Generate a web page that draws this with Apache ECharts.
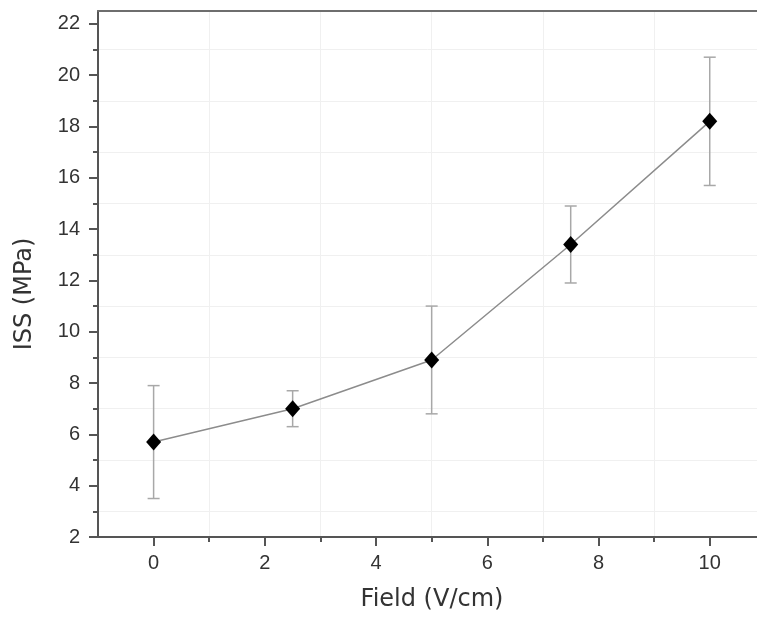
<!DOCTYPE html>
<html>
<head>
<meta charset="utf-8">
<script src="https://cdn.jsdelivr.net/npm/echarts@6/dist/echarts.min.js"></script>
<style>
  html, body { margin: 0; padding: 0; background: #ffffff; }
  #chart { width: 757px; height: 621px; }
</style>
</head>
<body>
<div id="chart"></div>
<script>
var fieldValues = [0, 2.5, 5, 7.5, 10];
var issMean = [5.7, 7.0, 8.9, 13.4, 18.2];
var issHigh = [7.9, 7.7, 11.0, 14.9, 20.7];
var issLow = [3.5, 6.3, 6.8, 11.9, 15.7];
var xMajorTicks = [0, 2, 4, 6, 8, 10];
var xMinorTicks = [1, 3, 5, 7, 9];
var yMajorTicks = [2, 4, 6, 8, 10, 12, 14, 16, 18, 20, 22];
var yMinorTicks = [3, 5, 7, 9, 11, 13, 15, 17, 19, 21];
var xAxisTitle = 'Field (V/cm)';
var yAxisTitle = 'ISS (MPa)';

var FONT = '"Liberation Sans", Arial, sans-serif';
var TITLE_FONT = '"DejaVu Sans", "Liberation Sans", sans-serif';
var chart = echarts.init(document.getElementById('chart'), null, { renderer: 'canvas' });

var lineData = fieldValues.map(function (x, i) { return [x, issMean[i]]; });
var errData = fieldValues.map(function (x, i) { return [x, issLow[i], issHigh[i]]; });

var axisLineStyle = { color: '#555555', width: 2 };
var labelStyle = { color: '#333333', fontSize: 20, fontFamily: FONT };
var X_MIN = -1, X_MAX = 10.85, Y_MIN = 2, Y_MAX = 22.5;

var option = {
  backgroundColor: '#ffffff',
  animation: false,
  grid: { left: 98, top: 11, right: 0, bottom: 84 },
  xAxis: [
    {
      type: 'value', position: 'bottom', min: X_MIN, max: X_MAX,
      axisLine: { show: true, onZero: false, lineStyle: axisLineStyle },
      axisTick: { show: true, customValues: xMajorTicks, length: 9, lineStyle: axisLineStyle },
      axisLabel: Object.assign({ customValues: xMajorTicks, margin: 16 }, labelStyle),
      splitLine: { show: false }
    },
    {
      type: 'value', position: 'bottom', min: X_MIN, max: X_MAX,
      axisLine: { show: false, onZero: false },
      axisTick: { show: true, customValues: xMinorTicks, length: 5, lineStyle: axisLineStyle },
      axisLabel: { show: false },
      splitLine: { show: true, lineStyle: { color: '#f0f0f0', width: 1 } }
    },
    {
      type: 'value', position: 'top', min: X_MIN, max: X_MAX,
      axisLine: { show: true, onZero: false, lineStyle: { color: '#6e6e6e', width: 2 } },
      axisTick: { show: false },
      axisLabel: { show: false },
      splitLine: { show: false }
    }
  ],
  yAxis: [
    {
      type: 'value', position: 'left', min: Y_MIN, max: Y_MAX,
      axisLine: { show: true, onZero: false, lineStyle: axisLineStyle },
      axisTick: { show: true, customValues: yMajorTicks, length: 9, lineStyle: axisLineStyle },
      axisLabel: Object.assign({ customValues: yMajorTicks, margin: 18 }, labelStyle),
      splitLine: { show: false }
    },
    {
      type: 'value', position: 'left', min: Y_MIN, max: Y_MAX,
      axisLine: { show: false, onZero: false },
      axisTick: { show: true, customValues: yMinorTicks, length: 5, lineStyle: axisLineStyle },
      axisLabel: { show: false },
      splitLine: { show: true, lineStyle: { color: '#f0f0f0', width: 1 } }
    }
  ],
  graphic: [
    {
      type: 'text', x: 432, y: 600,
      style: { text: xAxisTitle, font: '24px ' + TITLE_FONT, fill: '#333333', textAlign: 'center', textVerticalAlign: 'middle' }
    },
    {
      type: 'text', x: 25, y: 294, rotation: Math.PI / 2,
      style: { text: yAxisTitle, font: '24px ' + TITLE_FONT, fill: '#333333', textAlign: 'center', textVerticalAlign: 'middle' }
    }
  ],
  series: [
    {
      type: 'custom', xAxisIndex: 0, yAxisIndex: 0, z: 2,
      data: errData,
      renderItem: function (params, api) {
        var x = api.value(0);
        var lo = api.coord([x, api.value(1)]);
        var hi = api.coord([x, api.value(2)]);
        var w = 6;
        var st = { stroke: '#a8a8a8', lineWidth: 1.5 };
        return {
          type: 'group',
          children: [
            { type: 'line', shape: { x1: hi[0], y1: hi[1], x2: lo[0], y2: lo[1] }, style: st },
            { type: 'line', shape: { x1: hi[0] - w, y1: hi[1], x2: hi[0] + w, y2: hi[1] }, style: st },
            { type: 'line', shape: { x1: lo[0] - w, y1: lo[1], x2: lo[0] + w, y2: lo[1] }, style: st }
          ]
        };
      }
    },
    {
      type: 'line', xAxisIndex: 0, yAxisIndex: 0, z: 3,
      data: lineData,
      symbol: 'diamond', symbolSize: [15, 17],
      itemStyle: { color: '#000000' },
      lineStyle: { color: '#8c8c8c', width: 1.5 }
    }
  ]
};
chart.setOption(option);
</script>
</body>
</html>
